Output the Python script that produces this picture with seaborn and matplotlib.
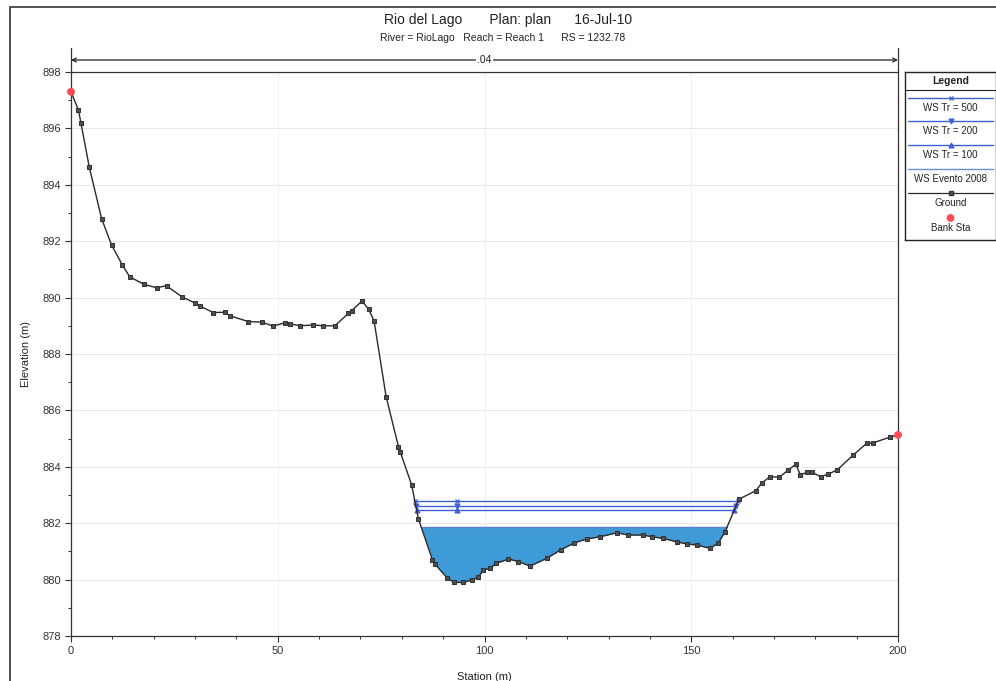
import numpy as np
import matplotlib
matplotlib.use("Agg")
import matplotlib.pyplot as plt
from matplotlib.patches import Rectangle
from matplotlib.ticker import MultipleLocator
import seaborn as sns

# ---------------- data ----------------
station = [0.0, 1.8, 2.4, 4.4, 7.4, 9.8, 12.4, 14.2, 17.6, 20.7, 23.1, 26.8, 30.1, 31.2,
           34.4, 37.2, 38.5, 42.9, 46.1, 48.9, 51.8, 53.0, 55.4, 58.6, 61.0, 63.8, 67.1,
           67.9, 70.4, 72.0, 73.3, 76.2, 79.2, 79.6, 82.4, 84.0, 87.4, 88.0, 90.9, 92.6,
           94.9, 96.9, 98.5, 99.7, 101.3, 102.9, 105.8, 108.2, 111.0, 115.0, 118.5, 121.7,
           124.7, 128.0, 132.0, 134.8, 138.4, 140.4, 143.2, 146.5, 148.9, 151.3, 154.5,
           156.5, 158.2, 161.5, 165.6, 167.0, 169.0, 171.3, 173.5, 175.3, 176.4, 177.9,
           179.3, 181.3, 183.1, 185.3, 189.2, 192.4, 194.0, 198.0, 200.0]
elevation = [897.30, 896.65, 896.20, 894.64, 892.80, 891.87, 891.16, 890.74, 890.47, 890.35,
             890.42, 890.03, 889.80, 889.70, 889.47, 889.48, 889.35, 889.15, 889.13, 888.99,
             889.11, 889.07, 889.00, 889.03, 889.00, 889.00, 889.44, 889.54, 889.88, 889.58,
             889.17, 886.49, 884.71, 884.54, 883.35, 882.16, 880.70, 880.55, 880.07, 879.90,
             879.90, 879.99, 880.08, 880.34, 880.40, 880.58, 880.73, 880.64, 880.48, 880.75,
             881.06, 881.30, 881.44, 881.52, 881.66, 881.58, 881.58, 881.52, 881.46, 881.34,
             881.26, 881.23, 881.11, 881.29, 881.70, 882.85, 883.15, 883.41, 883.65, 883.63,
             883.89, 884.09, 883.71, 883.80, 883.80, 883.65, 883.74, 883.89, 884.42, 884.83,
             884.85, 885.05, 885.13]
bank_stations = [0.0, 200.0]

ws_names = ["WS Tr = 500", "WS Tr = 200", "WS Tr = 100"]
ws_levels = [882.80, 882.62, 882.47]
ws_markers = ["x", "v", "^"]
ws_mid_station = [93.3]
event_name = "WS Evento 2008"
event_level = 881.88
manning_n = ".04"

title_text = "Rio del Lago       Plan: plan      16-Jul-10"
subtitle_text = "River = RioLago   Reach = Reach 1      RS = 1232.78"

# ---------------- helpers ----------------
st = np.array(station)
el = np.array(elevation)


def crossings(level):
    """left/right intersection of a water level with the channel ground."""
    low = int(np.argmin(el))
    i = low
    while el[i] < level:
        i -= 1
    left = st[i] + (level - el[i]) * (st[i + 1] - st[i]) / (el[i + 1] - el[i])
    j = low
    while el[j] < level:
        j += 1
    right = st[j - 1] + (level - el[j - 1]) * (st[j] - st[j - 1]) / (el[j] - el[j - 1])
    return left, right


# ---------------- figure ----------------
sns.set_theme(style="white")
plt.rcParams["font.family"] = ["Liberation Sans", "DejaVu Sans"]

fig = plt.figure(figsize=(9.96, 6.81), dpi=100)
ax = fig.add_axes([71 / 996, 1 - 636 / 681, (898 - 71) / 996, (636 - 72) / 681])

ax.set_xlim(0, 200)
ax.set_ylim(878, 898)

# grid
for yv in np.arange(880, 898, 2):
    ax.axhline(yv, color="#e8e8e8", lw=0.7, zorder=0)
for xv in [50, 100, 150]:
    ax.axvline(xv, color="#f0f0f0", lw=0.7, zorder=0)

# water fill of event
ax.fill_between(st, el, event_level, where=el < event_level, interpolate=True,
                color="#3f9ad8", lw=0, zorder=1)
l0, r0 = crossings(event_level)
ax.plot([l0, r0], [event_level, event_level], color="#5a7fd0", lw=1.0, zorder=2)

# WS profiles
ws_color = "#4060d6"
for name, lev, mk in zip(ws_names, ws_levels, ws_markers):
    l, r = crossings(lev)
    ax.plot([l, r], [lev, lev], color=ws_color, lw=1.0, zorder=3)
    xs = [l] + ws_mid_station + [r]
    ax.plot(xs, [lev] * len(xs), ls="none", marker=mk, ms=3.5, mew=0.9,
            color=ws_color, zorder=3)

# ground
sns.lineplot(x=station, y=elevation, ax=ax, sort=False, estimator=None,
             color="#2a2a2a", lw=1.0, marker="s", markersize=3.3,
             markeredgecolor="#333333", markerfacecolor="#505050", zorder=4)

# bank stations
ax.scatter(bank_stations, np.interp(bank_stations, st, el), s=32, color="#ff4b55",
           zorder=5, edgecolors="none", clip_on=False)

# axes style
for sp in ax.spines.values():
    sp.set_color("#333333")
    sp.set_linewidth(0.9)
ax.xaxis.set_major_locator(MultipleLocator(50))
ax.xaxis.set_minor_locator(MultipleLocator(10))
ax.yaxis.set_major_locator(MultipleLocator(2))
ax.yaxis.set_minor_locator(MultipleLocator(1))
ax.tick_params(which="major", direction="out", length=4, width=0.8, labelsize=8,
               colors="#333333", bottom=True, left=True, pad=3)
ax.tick_params(which="minor", direction="out", length=2.5, width=0.7,
               bottom=True, left=True, colors="#333333")
ax.set_xlabel("Station (m)", fontsize=8, labelpad=12, color="#222222")
ax.set_ylabel("Elevation (m)", fontsize=8, labelpad=8, color="#222222")

# Manning's n arrow line above the plot
ytop = 1 + 12 / 564
ax.annotate("", xy=(0, ytop), xytext=(200, ytop), xycoords=("data", "axes fraction"),
            textcoords=("data", "axes fraction"), annotation_clip=False,
            arrowprops=dict(arrowstyle="<->", color="#222222", lw=0.9,
                            shrinkA=0, shrinkB=0, mutation_scale=7))
for xv in [0, 200]:
    ax.plot([xv, xv], [1, 1 + 24 / 564], transform=ax.get_xaxis_transform(),
            color="#333333", lw=0.9, clip_on=False)
ax.text(100, ytop, manning_n, transform=ax.get_xaxis_transform(), ha="center",
        va="center", fontsize=7.5, color="#222222",
        bbox=dict(facecolor="white", edgecolor="none", pad=1.0))

# titles
fig.text(508 / 996, 1 - 20 / 681, title_text, ha="center", va="center", fontsize=10,
         color="#222222")
fig.text(503 / 996, 1 - 38 / 681, subtitle_text, ha="center", va="center", fontsize=7.5,
         color="#222222")

# outer page frame
fig.patches.append(Rectangle((10 / 996, -0.05), 1.2, 1 - 7 / 681 + 0.05, fill=False,
                             lw=1.2, edgecolor="#333333", transform=fig.transFigure))

# ---------------- custom legend ----------------
lax = fig.add_axes([905 / 996, 1 - 240 / 681, 91 / 996, 168 / 681])
lax.set_xlim(0, 91)
lax.set_ylim(168, 0)
lax.set_xticks([])
lax.set_yticks([])
for sp in lax.spines.values():
    sp.set_color("#222222")
    sp.set_linewidth(1.0)
lax.text(45.5, 9, "Legend", ha="center", va="center", fontsize=7.5, fontweight="bold",
         color="#222222")
lax.plot([0, 91], [18, 18], color="#222222", lw=0.8)

rows = [(26, 36), (49, 59), (73, 83), (97, 107), (121, 131), (146, 156)]
for (ly, ty), name, mk in zip(rows[:3], ws_names, ws_markers):
    lax.plot([3, 88], [ly, ly], color=ws_color, lw=1.0)
    lax.plot([45.5], [ly], marker=mk, ms=3.5, mew=0.9, color=ws_color)
    lax.text(45.5, ty, name, ha="center", va="center", fontsize=7, color="#222222")
lax.plot([3, 88], [rows[3][0], rows[3][0]], color="#6a8fd8", lw=1.0)
lax.text(45.5, rows[3][1], event_name, ha="center", va="center", fontsize=7,
         color="#222222")
lax.plot([3, 88], [rows[4][0], rows[4][0]], color="#2a2a2a", lw=0.9)
lax.plot([45.5], [rows[4][0]], marker="s", ms=3.3, color="#505050",
         markeredgecolor="#333333")
lax.text(45.5, rows[4][1], "Ground", ha="center", va="center", fontsize=7,
         color="#222222")
lax.scatter([45.5], [rows[5][0]], s=32, color="#ff4b55", edgecolors="none")
lax.text(45.5, rows[5][1], "Bank Sta", ha="center", va="center", fontsize=7,
         color="#222222")

fig.savefig("out.png", dpi=100)
